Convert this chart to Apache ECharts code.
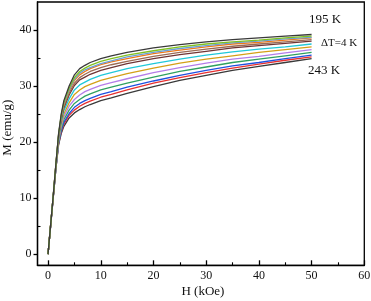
<!DOCTYPE html>
<html>
<head>
<meta charset="utf-8">
<script src="https://cdn.jsdelivr.net/npm/echarts@6/dist/echarts.min.js"></script>
<style>
  html, body { margin: 0; padding: 0; background: #fff; }
  #chart { width: 371px; height: 301px; }
</style>
</head>
<body>
<div id="chart"></div>
<script>
// field values (kOe) shared by all curves
let fieldH = [0, 0.5, 1, 1.5, 2, 2.5, 3, 4, 5, 6, 7, 8, 10, 12, 15, 20, 25, 30, 35, 40, 45, 50]

// magnetization (emu/g), one list per temperature, 195 K .. 243 K step 4 K
let temps = ['195 K', '199 K', '203 K', '207 K', '211 K', '215 K', '219 K', '223 K', '227 K', '231 K', '235 K', '239 K', '243 K']
let m195 = [0, 5.3, 10.6, 16.2, 21.5, 25.0, 27.4, 30.0, 32.0, 33.1, 33.7, 34.2, 34.9, 35.4, 36.0, 36.8, 37.4, 37.9, 38.3, 38.6, 38.9, 39.2]
let m199 = [0, 5.3, 10.6, 16.1, 21.4, 24.8, 27.1, 29.6, 31.5, 32.6, 33.2, 33.7, 34.4, 34.9, 35.5, 36.3, 37.0, 37.5, 37.9, 38.2, 38.6, 38.9]
let m203 = [0, 5.3, 10.6, 16.1, 21.3, 24.6, 26.9, 29.3, 31.2, 32.3, 32.9, 33.3, 34.0, 34.5, 35.2, 36.0, 36.7, 37.2, 37.7, 38.0, 38.4, 38.7]
let m207 = [0, 5.3, 10.5, 16.1, 21.2, 24.5, 26.7, 29.1, 31.0, 32.0, 32.6, 33.1, 33.8, 34.3, 34.9, 35.8, 36.4, 37.0, 37.5, 37.8, 38.2, 38.6]
let m211 = [0, 5.3, 10.5, 16.0, 21.1, 24.2, 26.4, 28.7, 30.5, 31.5, 32.1, 32.6, 33.3, 33.8, 34.4, 35.3, 36.0, 36.6, 37.1, 37.5, 37.9, 38.3]
let m215 = [0, 5.3, 10.5, 16.0, 20.9, 24.0, 26.1, 28.4, 30.1, 31.1, 31.6, 32.1, 32.8, 33.3, 34.0, 34.9, 35.6, 36.2, 36.8, 37.2, 37.6, 38.0]
let m219 = [0, 5.2, 10.4, 15.8, 20.7, 23.6, 25.6, 27.7, 29.3, 30.2, 30.7, 31.2, 31.9, 32.4, 33.1, 34.0, 34.8, 35.5, 36.1, 36.6, 37.0, 37.5]
let m223 = [0, 5.2, 10.4, 15.7, 20.5, 23.2, 25.0, 27.0, 28.5, 29.3, 29.9, 30.3, 31.0, 31.5, 32.2, 33.2, 34.1, 34.8, 35.4, 36.0, 36.5, 37.0]
let m227 = [0, 5.2, 10.3, 15.6, 20.2, 22.8, 24.5, 26.4, 27.6, 28.4, 29.0, 29.4, 30.1, 30.6, 31.3, 32.4, 33.3, 34.1, 34.8, 35.3, 35.9, 36.5]
let m231 = [0, 5.2, 10.3, 15.5, 20.0, 22.4, 24.0, 25.7, 26.9, 27.6, 28.2, 28.6, 29.3, 29.8, 30.5, 31.6, 32.6, 33.4, 34.2, 34.8, 35.4, 36.0]
let m235 = [0, 5.1, 10.3, 15.4, 19.8, 22.0, 23.5, 25.1, 26.2, 26.9, 27.4, 27.8, 28.5, 29.0, 29.8, 30.9, 31.9, 32.8, 33.6, 34.2, 34.9, 35.5]
let m239 = [0, 5.1, 10.2, 15.4, 19.7, 21.8, 23.2, 24.8, 25.7, 26.4, 26.9, 27.3, 28.0, 28.5, 29.3, 30.5, 31.5, 32.4, 33.2, 33.9, 34.6, 35.2]
let m243 = [0, 5.1, 10.2, 15.3, 19.5, 21.5, 22.8, 24.3, 25.2, 25.8, 26.3, 26.7, 27.4, 27.9, 28.7, 29.9, 31.0, 31.9, 32.8, 33.5, 34.2, 34.9]
let curves = [m195, m199, m203, m207, m211, m215, m219, m223, m227, m231, m235, m239, m243]

// tick labels
let xTicks = [0, 10, 20, 30, 40, 50, 60]
let xMinor = [5, 15, 25, 35, 45, 55]
let yTicks = [0, 10, 20, 30, 40]
let yMinor = [5, 15, 25, 35]

let colors = ['#3a3a3a', '#80c020', '#6a9fd8', '#f07818', '#9a6a55', '#6e3535',
    '#20c8d8', '#d4a017', '#b47ee8', '#30a060', '#2050e0', '#e83030', '#3a3a3a']

let serif = "'Liberation Serif', 'Times New Roman', serif"
let chart = echarts.init(document.getElementById('chart'))

let series = []
curves.forEach((arr, i) => {
    series.push({
        name: temps[i],
        type: 'line',
        xAxisIndex: 0,
        yAxisIndex: 0,
        showSymbol: false,
        symbol: 'none',
        lineStyle: { color: colors[i], width: 1.3 },
        z: 20 - i,
        data: fieldH.map((h, k) => [h, arr[k]])
    })
})

option = {
    backgroundColor: '#fff',
    animation: false,
    grid: {
        left: 37.5, right: 6.7, top: 2, bottom: 35.7,
        containLabel: false,
        outerBoundsMode: 'none',
        show: true,
        borderColor: '#000',
        borderWidth: 1.3
    },
    xAxis: [{
        type: 'value',
        min: -2, max: 60,
        name: 'H (kOe)',
        nameLocation: 'middle',
        nameGap: 20,
        nameMoveOverlap: false,
        nameTextStyle: { fontFamily: serif, fontSize: 13, color: '#111', padding: [0, 0, 0, 4] },
        axisLine: { show: true, onZero: false, lineStyle: { color: '#000', width: 1.3 } },
        axisTick: { show: true, inside: true, length: 5, customValues: xTicks, lineStyle: { color: '#000', width: 1.3 } },
        axisLabel: { customValues: xTicks, fontFamily: serif, fontSize: 12, color: '#111', margin: 5 },
        splitLine: { show: false }
    }, {
        type: 'value',
        min: -2, max: 60,
        position: 'bottom',
        axisLine: { show: false, onZero: false },
        axisTick: { show: true, inside: true, length: 3, customValues: xMinor, lineStyle: { color: '#000', width: 1.1 } },
        axisLabel: { show: false },
        splitLine: { show: false }
    }],
    yAxis: [{
        type: 'value',
        min: -2, max: 45,
        name: 'M (emu/g)',
        nameLocation: 'middle',
        nameGap: 23,
        nameMoveOverlap: false,
        nameTextStyle: { fontFamily: serif, fontSize: 13, color: '#111', padding: [0, 0, 0, 12] },
        axisLine: { show: true, onZero: false, lineStyle: { color: '#000', width: 1.3 } },
        axisTick: { show: true, inside: false, length: 4, customValues: yTicks, lineStyle: { color: '#000', width: 1.3 } },
        axisLabel: { customValues: yTicks, fontFamily: serif, fontSize: 12, color: '#111', margin: 6 },
        splitLine: { show: false }
    }, {
        type: 'value',
        min: -2, max: 45,
        position: 'left',
        axisLine: { show: false, onZero: false },
        axisTick: { show: true, inside: true, length: 3, customValues: yMinor, lineStyle: { color: '#000', width: 1.1 } },
        axisLabel: { show: false },
        splitLine: { show: false }
    }],
    graphic: [
        { type: 'text', left: 309, top: 13, style: { text: '195 K', font: '13px ' + serif, fill: '#111' } },
        { type: 'text', left: 321, top: 38, style: { text: 'ΔT=4 K', font: '11px ' + serif, fill: '#111' } },
        { type: 'text', left: 308, top: 64, style: { text: '243 K', font: '13px ' + serif, fill: '#111' } }
    ],
    series: series
}

chart.setOption(option)
window.addEventListener('resize', function () {
    chart.resize()
})
</script>
</body>
</html>
